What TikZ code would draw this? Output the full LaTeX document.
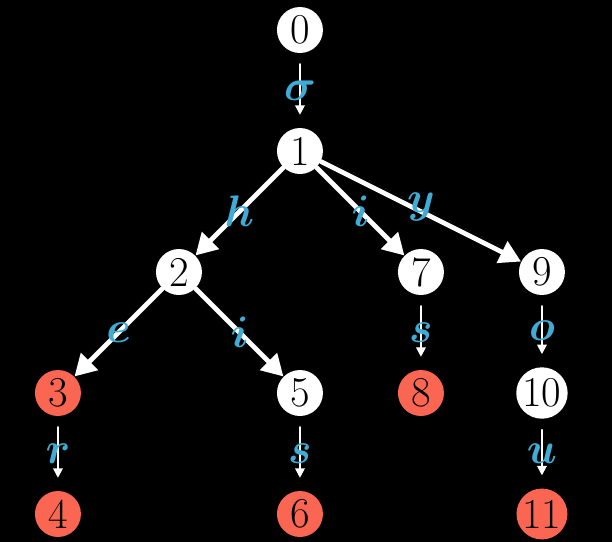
\documentclass[tikz,border=0pt]{standalone}
\usepackage{amsmath,amssymb,bm}
\usepackage{tikz}
\usetikzlibrary{arrows.meta}
\definecolor{fcqqpp}{rgb}{0.98,0.40,0.32}
\definecolor{ssaadd}{rgb}{0.25,0.67,0.83}

\begin{document}
\begin{tikzpicture}[line cap=round,line join=round,x=2.0cm,y=2.0cm,
  state/.style={circle,fill=white,text=black,inner sep=0.5pt,minimum size=0.76cm,font=\fontsize{20}{24}\selectfont},
  leaf/.style={state,fill=fcqqpp},
  bigedge/.style={draw=white,line width=2.2pt,-{Triangle[length=10pt,width=11pt]}},
  smalledge/.style={draw=white,line width=0.9pt,-{Triangle[length=4.5pt,width=4.5pt]},shorten <=5pt,shorten >=6pt},
  lab/.style={text=ssaadd,font=\fontsize{20}{24}\selectfont,inner sep=0pt}]
\fill [black] (-0.479,0.248) rectangle (4.579,-4.231);
% states
\node [state] (n0) at (2,0) {0};
\node [state] (n1) at (2,-1) {1};
\node [state] (n2) at (1,-2) {2};
\node [state] (n7) at (3,-2) {7};
\node [state] (n9) at (4,-2) {9};
\node [leaf] (n3) at (0,-3) {3};
\node [state] (n5) at (2,-3) {5};
\node [leaf] (n8) at (3,-3) {8};
\node [state] (n10) at (4,-3) {10};
\node [leaf] (n4) at (0,-4) {4};
\node [leaf] (n6) at (2,-4) {6};
\node [leaf] (n11) at (4,-4) {11};
% transitions
\draw [smalledge] (n0) -- node [lab] {$\bm{\sigma}$} (n1);
\draw [bigedge] (n1) -- node [lab] {$\bm{h}$} (n2);
\draw [bigedge] (n1) -- node [lab] {$\bm{i}$} (n7);
\draw [bigedge] (n1) -- node [lab,yshift=2pt] {$\bm{y}$} (n9);
\draw [bigedge] (n2) -- node [lab] {$\bm{e}$} (n3);
\draw [bigedge] (n2) -- node [lab] {$\bm{i}$} (n5);
\draw [smalledge] (n7) -- node [lab] {$\bm{s}$} (n8);
\draw [smalledge] (n9) -- node [lab] {$\bm{o}$} (n10);
\draw [smalledge] (n3) -- node [lab] {$\bm{r}$} (n4);
\draw [smalledge] (n5) -- node [lab] {$\bm{s}$} (n6);
\draw [smalledge] (n10) -- node [lab] {$\bm{u}$} (n11);
\end{tikzpicture}
\end{document}
